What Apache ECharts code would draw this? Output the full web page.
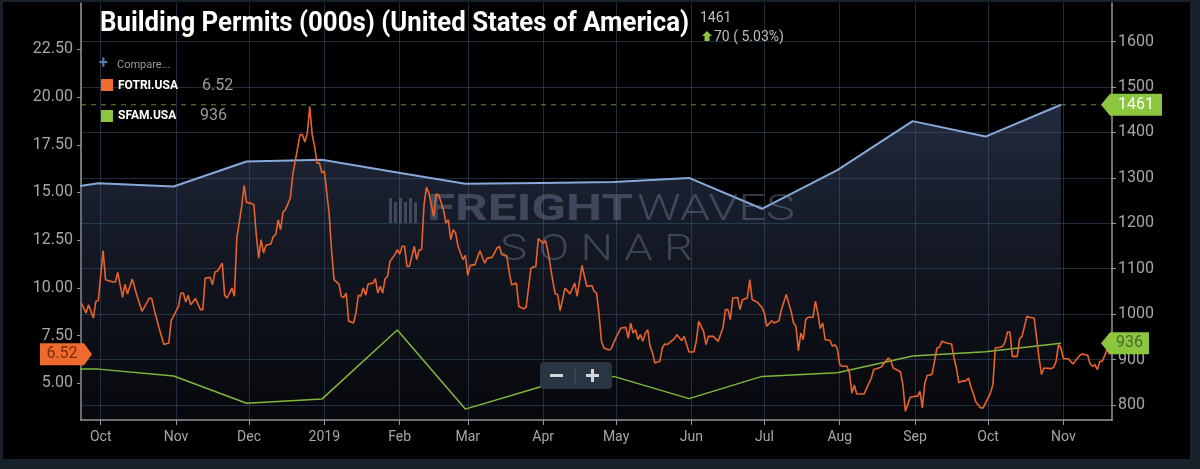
<!DOCTYPE html>
<html lang="en">
<head>
    <meta charset="utf-8">
    <title>Building Permits (000s) (United States of America)</title>
    <script src="https://cdn.jsdelivr.net/npm/echarts@6/dist/echarts.min.js"></script>
    <style>
        html, body {
            margin: 0;
            padding: 0;
            background: #19222b;
        }

        #chart {
            width: 1200px;
            height: 469px;
        }
    </style>
</head>
<body>
<div id="chart"></div>

<script type="text/javascript">

    // month ticks along the bottom
    var monthTicks = ['2018-10-01', '2018-11-01', '2018-12-01', '2019-01-01', '2019-02-01', '2019-03-01', '2019-04-01',
        '2019-05-01', '2019-06-01', '2019-07-01', '2019-08-01', '2019-09-01', '2019-10-01', '2019-11-01'];
    var monthLabels = ['Oct', 'Nov', 'Dec', '2019', 'Feb', 'Mar', 'Apr', 'May', 'Jun', 'Jul', 'Aug', 'Sep', 'Oct', 'Nov'];

    var leftTicks = [5, 7.5, 10, 12.5, 15, 17.5, 20, 22.5];
    var rightTicks = [800, 900, 1000, 1100, 1200, 1300, 1400, 1500, 1600];

    // monthly series, plotted at month end
    var monthEnds = ['2018-08-31', '2018-09-30', '2018-10-31', '2018-11-30', '2018-12-31', '2019-01-31', '2019-02-28',
        '2019-03-31', '2019-04-30', '2019-05-31', '2019-06-30', '2019-07-31', '2019-08-31', '2019-09-30', '2019-10-31'];
    var permits = [1265, 1288, 1281, 1336, 1340, 1312, 1287, 1289, 1291, 1300, 1232, 1317, 1425, 1391, 1461];
    var sfam = [881, 879, 864, 804, 813, 965, 791, 840, 863, 814, 863, 871, 908, 917, 936];

    // FOTRI.USA daily: [days after 2018-10-01, value]
    var fotri = [
        [-8, 9.21], [-6, 8.68], [-5, 9.12], [-3, 8.42], [-2, 9.30], [-1, 9.33], [1, 11.95], [2, 10.43], [5, 10.31],
        [6, 10.31], [7, 10.81], [9, 9.50], [10, 10.20], [11, 9.68], [13, 10.46], [15, 9.56], [17, 8.77], [20, 9.47],
        [21, 9.44], [22, 8.86], [24, 7.90], [26, 7.03], [28, 7.11], [29, 8.28], [32, 9.03], [33, 9.73], [34, 9.73],
        [35, 9.26], [36, 9.61], [37, 9.12], [39, 9.44], [41, 8.86], [42, 8.86], [43, 10.52], [45, 10.55], [46, 10.17],
        [47, 10.83], [48, 10.87], [50, 11.30], [51, 9.61], [52, 9.47], [54, 9.99], [55, 9.56], [56, 12.61], [58, 14.27],
        [59, 15.36], [60, 14.48], [62, 14.43], [63, 14.36], [64, 12.80], [65, 11.56], [66, 12.53], [67, 11.83],
        [68, 12.23], [70, 12.30], [71, 12.70], [72, 12.79], [73, 13.57], [74, 13.05], [75, 13.97], [76, 14.10],
        [78, 14.71], [79, 15.93], [81, 17.33], [82, 18.03], [83, 18.03], [84, 17.64], [85, 18.11], [86, 19.51],
        [87, 18.03], [88, 17.41], [89, 16.54], [90, 16.54], [91, 16.02], [92, 16.14], [94, 13.84], [95, 11.91],
        [96, 10.43], [98, 10.20], [99, 9.56], [100, 9.50], [101, 9.73], [102, 8.25], [104, 8.16], [105, 8.68],
        [106, 9.61], [107, 9.56], [108, 9.99], [109, 9.61], [110, 10.20], [112, 10.25], [113, 10.48], [114, 9.73],
        [115, 10.08], [116, 9.73], [117, 10.48], [118, 10.60], [119, 11.39], [121, 11.74], [122, 12.00], [123, 11.77],
        [124, 12.18], [125, 12.18], [126, 11.13], [127, 11.13], [129, 12.18], [130, 11.48], [131, 12.00], [132, 12.00],
        [133, 14.36], [134, 15.27], [135, 14.97], [137, 13.75], [138, 14.92], [139, 14.88], [141, 14.10], [142, 13.40],
        [143, 13.57], [144, 12.53], [145, 13.05], [146, 12.87], [147, 12.18], [149, 11.48], [150, 11.70], [151, 10.66],
        [152, 11.18], [154, 11.22], [155, 11.60], [156, 11.95], [158, 11.30], [159, 11.56], [161, 11.60], [163, 12.09],
        [164, 12.18], [165, 11.74], [167, 11.70], [168, 10.87], [169, 10.17], [171, 10.25], [172, 9.03], [174, 8.91],
        [175, 8.98], [177, 11.04], [179, 11.13], [180, 12.58], [182, 12.35], [183, 12.47], [184, 11.91], [186, 10.34],
        [187, 9.68], [188, 9.65], [189, 8.81], [191, 9.99], [193, 9.68], [195, 10.25], [196, 9.56], [198, 11.18],
        [199, 10.60], [200, 10.08], [202, 10.13], [203, 9.82], [204, 9.73], [205, 8.60], [206, 7.20], [207, 6.85],
        [209, 6.74], [210, 6.82], [212, 7.41], [214, 7.90], [216, 7.93], [217, 7.37], [218, 8.16], [219, 7.63],
        [220, 7.81], [221, 7.29], [222, 7.55], [223, 7.20], [224, 7.63], [225, 7.81], [226, 6.94], [227, 6.59],
        [228, 6.06], [230, 6.15], [231, 6.85], [232, 7.06], [233, 7.03], [236, 7.34], [237, 7.55], [239, 7.24],
        [240, 7.46], [242, 6.64], [244, 6.64], [245, 7.20], [246, 8.25], [248, 7.72], [249, 7.03], [250, 7.46],
        [252, 7.46], [254, 7.20], [256, 7.93], [257, 8.86], [258, 8.86], [259, 8.34], [260, 9.47], [262, 9.50],
        [263, 8.86], [264, 9.38], [266, 9.47], [267, 10.43], [268, 9.38], [270, 9.26], [272, 8.98], [273, 8.68],
        [274, 7.99], [276, 8.28], [277, 8.16], [279, 8.28], [280, 8.86], [282, 9.65], [284, 8.77], [285, 8.16],
        [286, 7.99], [287, 6.71], [288, 7.63], [289, 7.29], [290, 8.34], [291, 8.46], [293, 8.46], [294, 9.30],
        [295, 8.68], [296, 7.87], [297, 8.16], [298, 7.29], [300, 7.24], [301, 6.94], [302, 7.03], [303, 6.82],
        [304, 5.98], [305, 5.89], [307, 5.89], [308, 5.54], [309, 4.49], [310, 4.90], [311, 4.44], [314, 4.44],
        [315, 4.72], [317, 5.28], [318, 5.72], [321, 5.84], [322, 6.01], [324, 6.33], [325, 6.19], [326, 5.80],
        [328, 5.67], [329, 5.59], [330, 4.90], [331, 3.53], [333, 4.27], [335, 4.32], [336, 4.32], [337, 4.58],
        [338, 3.71], [339, 5.02], [340, 5.42], [341, 5.42], [342, 5.49], [343, 6.15], [344, 6.85], [345, 6.89],
        [346, 7.20], [348, 7.11], [350, 7.06], [351, 6.33], [352, 5.80], [353, 5.02], [354, 5.10], [356, 5.14],
        [357, 5.28], [358, 4.79], [359, 4.44], [360, 4.02], [362, 3.71], [363, 3.71], [364, 3.97], [366, 4.49],
        [367, 4.93], [368, 6.85], [370, 6.89], [371, 6.94], [372, 7.16], [373, 7.69], [374, 7.69], [375, 6.41],
        [377, 6.41], [378, 7.34], [379, 7.46], [381, 8.51], [382, 8.46], [384, 8.42], [385, 7.37], [386, 6.33],
        [387, 5.46], [388, 5.80], [391, 5.77], [392, 5.84], [393, 6.15], [394, 7.03], [395, 6.85], [396, 6.29],
        [397, 6.29], [398, 6.29], [399, 6.15], [400, 6.01], [401, 6.19], [403, 6.50], [404, 6.53], [406, 6.47],
        [407, 6.01], [408, 5.89], [409, 5.98], [410, 5.72], [411, 6.15], [412, 6.15], [414, 6.77], [415, 6.52]
    ];

    var lastFotri = 6.52;
    var lastPermits = 1461;
    var lastSfam = 936;

    var DAY = 86400000;

    function localTime(s) {
        var p = s.split('-');
        return new Date(+p[0], +p[1] - 1, +p[2]).getTime();
    }

    function dayTime(d) {
        return new Date(2018, 9, 1 + d).getTime();
    }

    var tickTimes = monthTicks.map(localTime);
    var xMin = tickTimes[0] - 8.1 * DAY;
    var xMax = tickTimes[0] + 416 * DAY;

    var measure = document.createElement('canvas').getContext('2d');

    function fitScale(text, font, width) {
        measure.font = font;
        return width / measure.measureText(text).width;
    }

    var gridColor = 'rgba(62,88,120,0.5)';
    var axisColor = '#9a9a9a';
    var labelColor = '#a6a6a6';
    var FONT = 'Roboto';

    var chart = echarts.init(document.getElementById('chart'));

    var option = {
        backgroundColor: '#19222b',
        animation: false,
        grid: {left: 81, right: 88, top: 3, bottom: 49},
        xAxis: {
            // timestamps on a value axis so the month ticks can be placed exactly
            type: 'value',
            min: xMin,
            max: xMax,
            axisLine: {lineStyle: {color: axisColor, width: 1.5}},
            axisTick: {customValues: tickTimes, length: 5, lineStyle: {color: axisColor}},
            axisLabel: {
                customValues: tickTimes,
                color: labelColor,
                fontFamily: FONT,
                fontSize: 14,
                margin: 10,
                formatter: function (val) {
                    var i = tickTimes.indexOf(val);
                    return i >= 0 ? monthLabels[i] : '';
                }
            },
            splitLine: {show: true, lineStyle: {color: gridColor, width: 1}}
        },
        yAxis: [
            {
                type: 'value',
                position: 'left',
                min: 3.077,
                max: 24.93,
                axisLine: {show: true, lineStyle: {color: axisColor, width: 1.5}},
                axisTick: {show: true, customValues: leftTicks, length: 4, lineStyle: {color: axisColor}},
                axisLabel: {
                    customValues: leftTicks,
                    color: labelColor,
                    fontFamily: FONT,
                    fontSize: 16,
                    margin: 8,
                    formatter: function (v) {
                        return v.toFixed(2);
                    }
                },
                splitLine: {show: false}
            },
            {
                type: 'value',
                position: 'right',
                min: 767,
                max: 1685,
                axisLine: {show: true, lineStyle: {color: axisColor, width: 1.5}},
                axisTick: {show: true, customValues: rightTicks, length: 4, lineStyle: {color: axisColor}},
                axisLabel: {
                    customValues: rightTicks,
                    color: labelColor,
                    fontFamily: FONT,
                    fontSize: 16,
                    margin: 6,
                    formatter: function (v) {
                        return String(v);
                    }
                },
                splitLine: {show: true, lineStyle: {color: gridColor, width: 1}}
            }
        ],
        series: [
            {
                name: 'Building Permits',
                type: 'line',
                yAxisIndex: 1,
                z: 2,
                data: monthEnds.map(function (d, i) {
                    return [localTime(d), permits[i]];
                }),
                showSymbol: false,
                lineStyle: {color: '#86a9d9', width: 2},
                areaStyle: {
                    color: new echarts.graphic.LinearGradient(0, 0, 0, 1, [
                        {offset: 0, color: 'rgba(80,98,145,0.62)'},
                        {offset: 1, color: 'rgba(50,60,90,0.2)'}
                    ])
                }
            },
            {
                name: 'SFAM.USA',
                type: 'line',
                yAxisIndex: 1,
                z: 5,
                data: monthEnds.map(function (d, i) {
                    return [localTime(d), sfam[i]];
                }),
                showSymbol: false,
                lineStyle: {color: '#80b83c', width: 1.5}
            },
            {
                name: 'FOTRI.USA',
                type: 'line',
                yAxisIndex: 0,
                z: 6,
                data: fotri.map(function (p) {
                    return [dayTime(p[0]), p[1]];
                }),
                showSymbol: false,
                lineStyle: {color: '#e8632b', width: 1.6}
            }
        ]
    };

    chart.setOption(option);

    // ---- overlay: background, title, legend, watermark, value tags ----
    var wmColor = 'rgba(120,132,155,0.42)';
    var titleText = 'Building Permits (000s) (United States of America)';
    var titleFont = 'bold 27px ' + FONT;
    var freightFont = 'bold 36px ' + FONT;
    var wavesFont = '300 36px ' + FONT;

    var g = [
        {type: 'rect', z: -100, silent: true, shape: {x: 3, y: 2, width: 1187, height: 457}, style: {fill: '#000'}},
        {
            type: 'text', z: 20, x: 100, y: 24, scaleX: fitScale(titleText, titleFont, 589),
            style: {text: titleText, font: titleFont, fill: '#fff', align: 'left', verticalAlign: 'middle'}
        },
        {
            type: 'text', z: 20, x: 700, y: 18,
            style: {text: String(lastPermits), font: '14px ' + FONT, fill: '#bdbdbd', verticalAlign: 'middle'}
        },
        {
            type: 'polygon', z: 20,
            shape: {points: [[707, 31], [712, 36], [709.5, 36], [709.5, 41], [704.5, 41], [704.5, 36], [702, 36]]},
            style: {fill: '#8cc63f'}
        },
        {
            type: 'text', z: 20, x: 714, y: 37,
            style: {text: '70 ( 5.03%)', font: '14px ' + FONT, fill: '#bdbdbd', verticalAlign: 'middle'}
        },
        // legend
        {
            type: 'text', z: 20, x: 99, y: 64,
            style: {text: '+', font: 'bold 16px ' + FONT, fill: '#5b7fb0', verticalAlign: 'middle'}
        },
        {
            type: 'text', z: 20, x: 117, y: 65,
            style: {text: 'Compare...', font: '11px ' + FONT, fill: '#9a9a9a', verticalAlign: 'middle'}
        },
        {type: 'rect', z: 20, shape: {x: 101, y: 79, width: 12, height: 12}, style: {fill: '#ef6a2e'}},
        {
            type: 'text', z: 20, x: 118, y: 86,
            style: {text: 'FOTRI.USA', font: 'bold 12px ' + FONT, fill: '#fff', verticalAlign: 'middle'}
        },
        {
            type: 'text', z: 20, x: 202, y: 86,
            style: {text: lastFotri.toFixed(2), font: '16px ' + FONT, fill: '#9a9a9a', verticalAlign: 'middle'}
        },
        {type: 'rect', z: 20, shape: {x: 101, y: 110, width: 12, height: 12}, style: {fill: '#8cc63f'}},
        {
            type: 'text', z: 20, x: 118, y: 116,
            style: {text: 'SFAM.USA', font: 'bold 12px ' + FONT, fill: '#fff', verticalAlign: 'middle'}
        },
        {
            type: 'text', z: 20, x: 200, y: 116,
            style: {text: String(lastSfam), font: '16px ' + FONT, fill: '#9a9a9a', verticalAlign: 'middle'}
        },
        // watermark
        {
            type: 'text', z: 3, silent: true, x: 427, y: 211, scaleX: fitScale('FREIGHT', freightFont, 206),
            style: {text: 'FREIGHT', font: freightFont, fill: wmColor, verticalAlign: 'middle'}
        },
        {
            type: 'text', z: 3, silent: true, x: 637, y: 211, scaleX: fitScale('WAVES', wavesFont, 158),
            style: {text: 'WAVES', font: wavesFont, fill: wmColor, verticalAlign: 'middle'}
        },
        {
            type: 'text', z: 3, silent: true, x: 500, y: 251, scaleX: fitScale('S O N A R', wavesFont, 193),
            style: {text: 'S O N A R', font: wavesFont, fill: wmColor, verticalAlign: 'middle'}
        },
        // zoom buttons
        {
            type: 'rect', z: 20, shape: {x: 540, y: 362, width: 72, height: 27, r: 4},
            style: {fill: '#283542'}
        },
        {type: 'line', z: 21, shape: {x1: 575, y1: 367, x2: 575, y2: 384}, style: {stroke: '#44525f', lineWidth: 1}},
        {type: 'rect', z: 21, shape: {x: 550, y: 374, width: 13, height: 3}, style: {fill: '#d6d6d6'}},
        {type: 'rect', z: 21, shape: {x: 586, y: 374, width: 13, height: 3}, style: {fill: '#d6d6d6'}},
        {type: 'rect', z: 21, shape: {x: 591, y: 369, width: 3, height: 13}, style: {fill: '#d6d6d6'}}
    ];

    // watermark logo bars
    [0, 1, 2, 3, 4, 5].forEach(function (i) {
        g.push({
            type: 'rect', z: 3, silent: true,
            shape: {x: 389 + i * 5, y: 198 + (i % 2) * 4, width: 3, height: 25 - (i % 2) * 4},
            style: {fill: wmColor}
        });
    });

    // dashed level line at the latest permits value, across the plot
    var levelY = chart.convertToPixel({yAxisIndex: 1}, lastPermits);
    var plotL = chart.convertToPixel({xAxisIndex: 0}, xMin);
    var plotR = chart.convertToPixel({xAxisIndex: 0}, xMax);
    g.push({
        type: 'line', z: 4, silent: true,
        shape: {x1: plotL, y1: levelY, x2: plotR, y2: levelY},
        style: {stroke: '#5f8a35', lineWidth: 1, lineDash: [5, 5]}
    });

    // value tags on the axes
    function rightTag(value, width, textColor) {
        var y = chart.convertToPixel({yAxisIndex: 1}, value);
        var x0 = 1101;
        g.push({
            type: 'polygon', z: 20,
            shape: {points: [[x0, y], [x0 + 9, y - 11], [x0 + 9 + width, y - 11], [x0 + 9 + width, y + 11], [x0 + 9, y + 11]]},
            style: {fill: '#8cc63f'}
        });
        g.push({
            type: 'text', z: 21, x: x0 + 9 + width / 2, y: y,
            style: {text: String(value), font: '16px ' + FONT, fill: textColor, align: 'center', verticalAlign: 'middle'}
        });
    }

    rightTag(lastPermits, 52, '#ffffff');
    rightTag(lastSfam, 39, '#4a6a28');

    var ly = chart.convertToPixel({yAxisIndex: 0}, lastFotri);
    g.push({
        type: 'polygon', z: 20,
        shape: {points: [[40, ly - 11], [84, ly - 11], [92, ly], [84, ly + 11], [40, ly + 11]]},
        style: {fill: '#ee6a2f'}
    });
    g.push({
        type: 'text', z: 21, x: 62, y: ly,
        style: {text: lastFotri.toFixed(2), font: '16px ' + FONT, fill: '#7a2d0e', align: 'center', verticalAlign: 'middle'}
    });

    chart.setOption({graphic: g});
</script>
</body>
</html>
